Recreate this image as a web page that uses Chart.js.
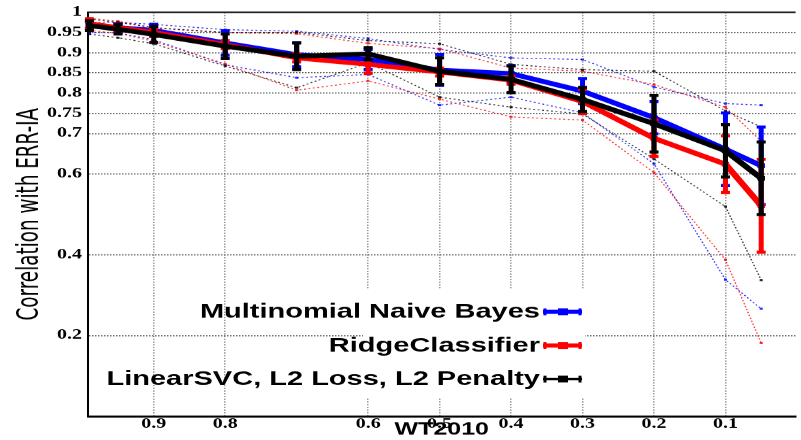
<!DOCTYPE html>
<html><head><meta charset="utf-8">
<script src="https://cdn.jsdelivr.net/npm/chart.js@4.4.0/dist/chart.umd.min.js"></script>
<style>html,body{margin:0;padding:0;background:#fff;overflow:hidden}canvas{display:block}</style>
</head><body>
<canvas id="c" width="801" height="647" style="width:801px;height:440px"></canvas>
<script>
// ---- data ----
const xValues = [0.99, 0.95, 0.9, 0.8, 0.7, 0.6, 0.5, 0.4, 0.3, 0.2, 0.1, 0.05];
const xTickValues = [0.9, 0.8, 0.6, 0.5, 0.4, 0.3, 0.2, 0.1];
const yTickValues = [0.2, 0.4, 0.6, 0.7, 0.75, 0.8, 0.85, 0.9, 0.95, 1];
const seriesNames = ["Multinomial Naive Bayes", "RidgeClassifier", "LinearSVC, L2 Loss, L2 Penalty"];

const nbMean = [0.968, 0.962, 0.955, 0.924, 0.895, 0.883, 0.857, 0.848, 0.805, 0.739, 0.661, 0.620];
const nbErr  = [0.008, 0.010, 0.015, 0.030, 0.030, 0.025, 0.038, 0.020, 0.031, 0.040, 0.090, 0.096];
const nbMax  = [0.975, 0.975, 0.970, 0.957, 0.953, 0.935, 0.908, 0.887, 0.883, 0.815, 0.774, 0.770];
const nbMin  = [0.950, 0.949, 0.932, 0.870, 0.838, 0.846, 0.770, 0.790, 0.751, 0.625, 0.338, 0.266];

const ridgeMean = [0.972, 0.962, 0.950, 0.920, 0.887, 0.871, 0.852, 0.832, 0.779, 0.688, 0.624, 0.521];
const ridgeErr  = [0.012, 0.008, 0.010, 0.010, 0.010, 0.022, 0.010, 0.010, 0.030, 0.045, 0.070, 0.115];
const ridgeMax  = [0.985, 0.978, 0.961, 0.949, 0.947, 0.923, 0.910, 0.862, 0.854, 0.821, 0.765, 0.681];
const ridgeMin  = [0.955, 0.948, 0.928, 0.872, 0.807, 0.830, 0.785, 0.741, 0.733, 0.603, 0.387, 0.181];

const svcMean = [0.967, 0.958, 0.945, 0.916, 0.891, 0.897, 0.854, 0.834, 0.784, 0.724, 0.657, 0.589];
const svcErr  = [0.012, 0.012, 0.020, 0.030, 0.033, 0.015, 0.033, 0.033, 0.030, 0.070, 0.065, 0.090];
const svcMax  = [0.983, 0.975, 0.962, 0.950, 0.950, 0.930, 0.922, 0.871, 0.858, 0.854, 0.756, 0.716];
const svcMin  = [0.946, 0.937, 0.922, 0.867, 0.813, 0.875, 0.790, 0.765, 0.748, 0.637, 0.519, 0.337];

// ---- build ----
const pts = arr => arr.map((v, i) => ({x: xValues[i], y: v}));
const BLUE = '#0000ff', RED = '#ff0000', BLACK = '#000000';

function mainDs(label, arr, err, color, order) {
  return {label, data: pts(arr), errors: err, borderColor: color, backgroundColor: color,
    borderWidth: 7, pointStyle: 'rect', pointRadius: 4.5, pointBorderWidth: 1,
    pointBackgroundColor: color, pointBorderColor: color, tension: 0, order, clip: false};
}
function dotDs(label, arr, color, order) {
  return {label, data: pts(arr), borderColor: color, backgroundColor: color,
    borderWidth: 1.4, borderDash: [2, 2.5], pointStyle: 'rect', pointRadius: 2.2, pointBorderWidth: 0,
    pointBackgroundColor: color, tension: 0, order, clip: false};
}

const datasets = [
  mainDs(seriesNames[2], svcMean, svcErr, BLACK, 0),
  mainDs(seriesNames[1], ridgeMean, ridgeErr, RED, 1),
  mainDs(seriesNames[0], nbMean, nbErr, BLUE, 2),
  dotDs(seriesNames[0] + ' max', nbMax, 'rgba(0,0,255,0.8)', 5),
  dotDs(seriesNames[0] + ' min', nbMin, 'rgba(0,0,255,0.8)', 5),
  dotDs(seriesNames[1] + ' max', ridgeMax, 'rgba(255,0,0,0.8)', 4),
  dotDs(seriesNames[1] + ' min', ridgeMin, 'rgba(255,0,0,0.8)', 4),
  dotDs(seriesNames[2] + ' max', svcMax, 'rgba(0,0,0,0.8)', 3),
  dotDs(seriesNames[2] + ' min', svcMin, 'rgba(0,0,0,0.8)', 3)
];

const errorBars = {
  id: 'errorBars',
  afterDatasetDraw(chart, args) {
    const ds = chart.data.datasets[args.index];
    if (!ds.errors) return;
    const xs = chart.scales.x, ys = chart.scales.y, ctx = chart.ctx;
    ctx.save();
    ctx.strokeStyle = ds.borderColor;
    ds.data.forEach((p, i) => {
      const e = ds.errors[i];
      const px = xs.getPixelForValue(p.x);
      const t = ys.getPixelForValue(p.y + e), b = ys.getPixelForValue(p.y - e);
      ctx.lineWidth = 5;
      ctx.beginPath(); ctx.moveTo(px, t); ctx.lineTo(px, b); ctx.stroke();
      ctx.lineWidth = 4.5;
      ctx.beginPath();
      ctx.moveTo(px - 4.5, t); ctx.lineTo(px + 4.5, t);
      ctx.moveTo(px - 4.5, b); ctx.lineTo(px + 4.5, b);
      ctx.stroke();
    });
    ctx.restore();
  }
};

const frameAndKey = {
  id: 'frameAndKey',
  beforeDatasetsDraw(chart) {
    const ctx = chart.ctx;
    ctx.save();
    ctx.fillStyle = '#ffffff';
    ctx.fillRect(363, 426, 222, 159);
    ctx.restore();
  },
  afterDraw(chart) {
    const ctx = chart.ctx, a = chart.chartArea;
    ctx.save();
    ctx.strokeStyle = '#222';
    ctx.lineWidth = 2.5;
    ctx.beginPath(); ctx.moveTo(a.left, a.top); ctx.lineTo(a.right, a.top); ctx.stroke();
    // key
    const rows = [
      {name: seriesNames[0], color: BLUE, w: 6},
      {name: seriesNames[1], color: RED, w: 6},
      {name: seriesNames[2], color: BLACK, w: 3.5}
    ];
    const rowY = [458.4, 508.1, 557.4];
    ctx.font = 'bold 29px "Liberation Sans", Arial, sans-serif';
    ctx.textAlign = 'right';
    ctx.textBaseline = 'middle';
    rows.forEach((r, i) => {
      const y = rowY[i];
      ctx.fillStyle = '#000';
      ctx.fillText(r.name, 540, y + 1);
      ctx.strokeStyle = r.color;
      ctx.lineWidth = r.w;
      ctx.beginPath(); ctx.moveTo(543, y); ctx.lineTo(582, y); ctx.stroke();
      ctx.lineWidth = 3;
      ctx.beginPath(); ctx.moveTo(545, y - 5); ctx.lineTo(545, y + 5); ctx.moveTo(580, y - 5); ctx.lineTo(580, y + 5); ctx.stroke();
      ctx.fillStyle = r.color;
      ctx.fillRect(558, y - 5, 10, 10);
    });
    ctx.restore();
  }
};

new Chart(document.getElementById('c'), {
  type: 'line',
  data: {datasets},
  plugins: [errorBars, frameAndKey],
  options: {
    responsive: false,
    animation: false,
    devicePixelRatio: 1,
    layout: {padding: {top: 16, left: 0, right: 0, bottom: 0}},
    plugins: {legend: {display: false}, tooltip: {enabled: false}},
    scales: {
      x: {
        type: 'linear', reverse: true, min: 0.002, max: 0.992,
        afterBuildTicks: s => { s.ticks = xTickValues.map(v => ({value: v})); },
        afterFit: s => { s.height = 35; },
        ticks: {color: '#000', padding: 0, maxRotation: 0, autoSkip: false,
          font: {family: '"Liberation Serif", "Times New Roman", serif', weight: 'bold', size: 20},
          callback: v => String(v)},
        grid: {color: '#9a9a9a', lineWidth: 1.5, drawTicks: false},
        border: {display: true, color: '#000', width: 3, dash: [2, 2]},
        title: {display: true, text: 'WT2010', color: '#000', padding: 0,
          font: {family: '"Liberation Sans", Arial, sans-serif', weight: 'bold', size: 25}}
      },
      y: {
        type: 'linear', min: 0, max: 1,
        afterBuildTicks: s => { s.ticks = yTickValues.map(v => ({value: v})); },
        afterFit: s => { s.width = 88; },
        ticks: {color: '#000', padding: 6, autoSkip: false,
          font: {family: '"Liberation Serif", "Times New Roman", serif', weight: 'bold', size: 20},
          callback: v => String(v)},
        grid: {color: '#555', lineWidth: 1.4, drawTicks: false},
        border: {display: true, color: '#000', width: 2, dash: [1.5, 1.5]},
        title: {display: true, text: 'Correlation with ERR-IA', color: '#000',
          padding: {top: 15, bottom: 0},
          font: {family: '"Liberation Sans Narrow", "DejaVu Sans Condensed", "Liberation Sans", sans-serif', size: 30, lineHeight: 1}}
      }
    }
  }
});
</script>
</body></html>
